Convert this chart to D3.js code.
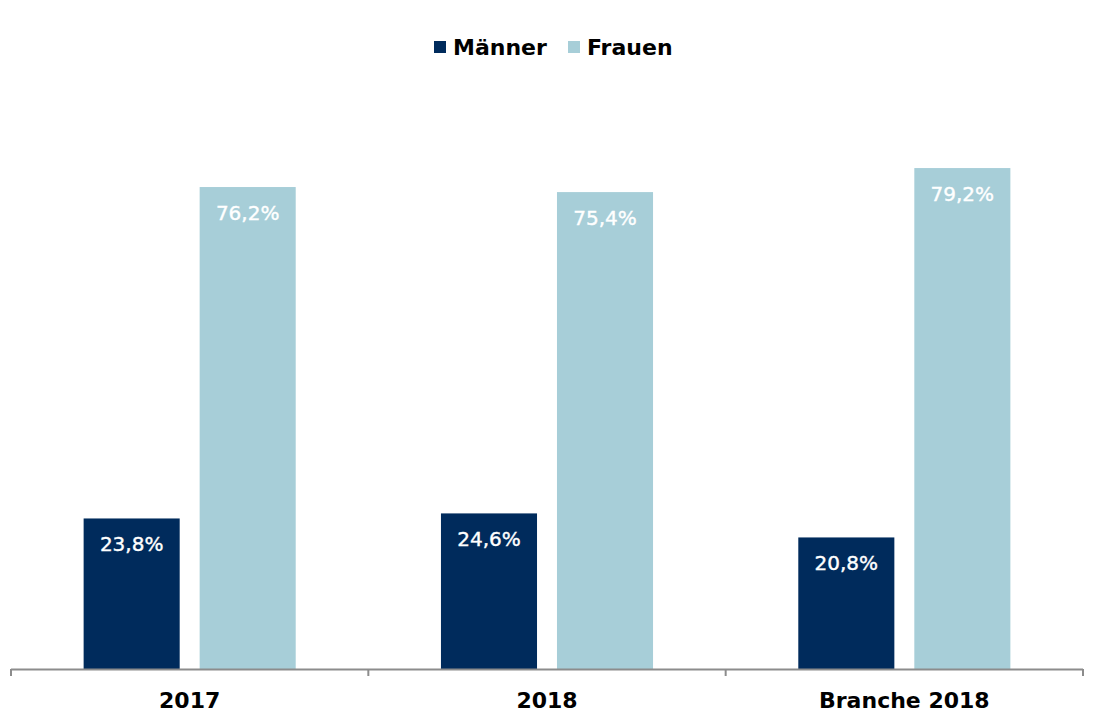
<!DOCTYPE html>
<html>
<head>
<meta charset="utf-8">
<script src="https://cdn.jsdelivr.net/npm/d3@7"></script>
<style>
  body { margin: 0; background: #fff; }
  svg { display: block; font-family: "DejaVu Sans", Verdana, sans-serif; }
</style>
</head>
<body>
<svg id="chart" width="1105" height="724"></svg>
<script>
// Chart data
const categories = ['2017', '2018', 'Branche 2018'];
const series = ['Männer', 'Frauen'];
const maenner = [23.8, 24.6, 20.8];
const frauen = [76.2, 75.4, 79.2];

const colors = ['#002b5c', '#a7ced8'];

const width = 1105;
const height = 724;
const margin = {left: 11, right: 22, bottom: 55};
const baseline = height - margin.bottom; // 669

const svg = d3.select('#chart');

const x = d3.scaleBand()
    .domain(categories)
    .range([margin.left, width - margin.right])
    .paddingInner(0)
    .paddingOuter(0);

// two bars per category, 20px gap between them
const xInner = d3.scaleBand()
    .domain(series)
    .range([0, x.bandwidth()])
    .paddingInner(0.172)
    .paddingOuter(0.626);

const y = d3.scaleLinear()
    .domain([0, 100])
    .range([baseline, baseline - 632.5]);

const rows = categories.map((c, i) => ({
    category: c,
    values: [
        {series: 'Männer', value: maenner[i], color: colors[0]},
        {series: 'Frauen', value: frauen[i], color: colors[1]}
    ]
}));

const groups = svg.selectAll('g.group')
    .data(rows)
    .enter().append('g')
    .attr('class', 'group')
    .attr('transform', d => `translate(${x(d.category)},0)`);

groups.selectAll('rect')
    .data(d => d.values)
    .enter().append('rect')
    .attr('x', d => xInner(d.series))
    .attr('width', xInner.bandwidth())
    .attr('y', d => y(d.value))
    .attr('height', d => baseline - y(d.value))
    .attr('fill', d => d.color);

// Value labels inside bar tops
const fmt = v => d3.format('.1f')(v).replace('.', ',') + '%';
groups.selectAll('text.value')
    .data(d => d.values)
    .enter().append('text')
    .attr('class', 'value')
    .attr('x', d => xInner(d.series) + xInner.bandwidth() / 2)
    .attr('y', d => y(d.value) + 33)
    .attr('text-anchor', 'middle')
    .attr('fill', '#fff')
    .style('font-size', '20px')
    .style('font-weight', 'normal')
    .style('stroke', '#fff')
    .style('stroke-width', '0.4px')
    .text(d => fmt(d.value));

// X axis
const axis = svg.append('g')
    .attr('transform', `translate(0,${baseline})`);

axis.append('line')
    .attr('x1', margin.left).attr('x2', width - margin.right)
    .attr('y1', 0.5).attr('y2', 0.5)
    .attr('stroke', '#8c8c8c')
    .attr('stroke-width', 2);

const tickPositions = categories.map(c => x(c)).concat([x.range()[1]]);
axis.selectAll('line.tick')
    .data(tickPositions)
    .enter().append('line')
    .attr('class', 'tick')
    .attr('x1', d => d).attr('x2', d => d)
    .attr('y1', 0).attr('y2', 7)
    .attr('stroke', '#8c8c8c')
    .attr('stroke-width', 2);

axis.selectAll('text')
    .data(categories)
    .enter().append('text')
    .attr('x', d => x(d) + x.bandwidth() / 2)
    .attr('y', 39)
    .attr('text-anchor', 'middle')
    .attr('fill', '#000')
    .style('font-size', '22px')
    .style('font-weight', 'bold')
    .text(d => d);

// Legend
const legend = svg.append('g').attr('transform', 'translate(434,41)');
const legendOffsets = [0, 134];
const items = legend.selectAll('g')
    .data(series)
    .enter().append('g')
    .attr('transform', (d, i) => `translate(${legendOffsets[i]},0)`);
items.append('rect')
    .attr('width', 12).attr('height', 12)
    .attr('fill', (d, i) => colors[i]);
items.append('text')
    .attr('x', 19)
    .attr('y', 14)
    .style('font-size', '22px')
    .style('font-weight', 'bold')
    .attr('fill', '#000')
    .text(d => d);
</script>
</body>
</html>
